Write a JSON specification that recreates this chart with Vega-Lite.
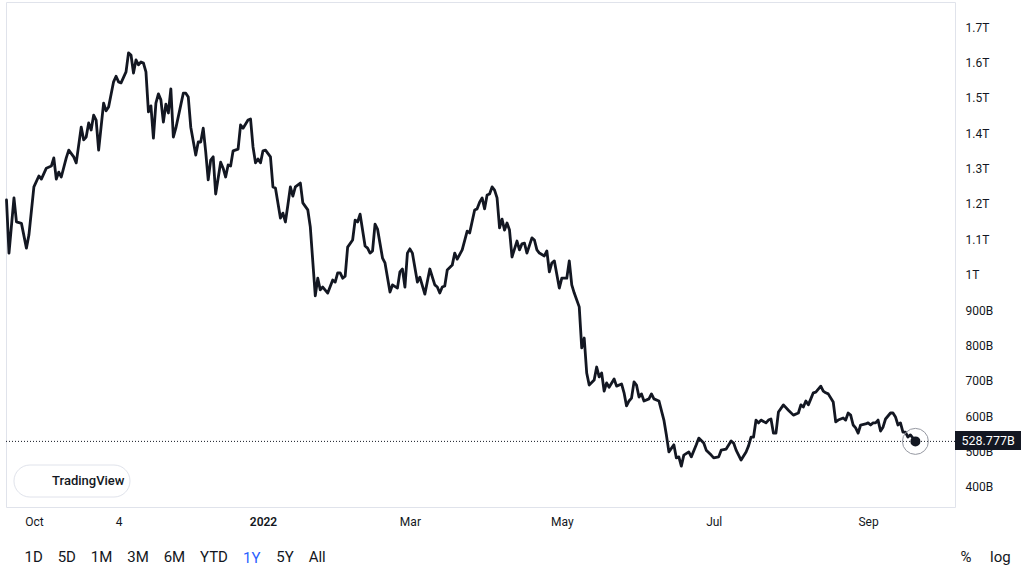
{
  "$schema": "https://vega.github.io/schema/vega-lite/v6.json",
  "autosize": "none",
  "width": 949,
  "height": 505,
  "padding": {"left": 6, "top": 2, "right": 69, "bottom": 70},
  "background": "white",
  "title": {"text": "1Y", "orient": "bottom", "anchor": "start", "frame": "group", "dx": 237, "dy": -6, "color": "#2962ff", "fontSize": 15, "fontWeight": "normal", "font": "Roboto", "baseline": "middle", "offset": 0},
  "config": {
    "font": "Roboto",
    "view": {"stroke": "#e0e3eb", "strokeWidth": 1},
    "axis": {"labelOverlap": false, "labelSeparation": 0},
    "axisY": {"labelOverlap": false, "values": [400, 500, 600, 700, 800, 900, 1000, 1100, 1200, 1300, 1400, 1500, 1600, 1700]}
  },
  "layer": [
    {
      "data": {"values": [
        {"date": "2021-09-20", "value": 1211}, {"date": "2021-09-21", "value": 1061}, {"date": "2021-09-23", "value": 1217}, {"date": "2021-09-24", "value": 1149}, {"date": "2021-09-26", "value": 1145}, {"date": "2021-09-28", "value": 1075}, {"date": "2021-09-29", "value": 1112},
        {"date": "2021-10-01", "value": 1248}, {"date": "2021-10-03", "value": 1279}, {"date": "2021-10-04", "value": 1270}, {"date": "2021-10-06", "value": 1301}, {"date": "2021-10-08", "value": 1307}, {"date": "2021-10-09", "value": 1330}, {"date": "2021-10-10", "value": 1270}, {"date": "2021-10-11", "value": 1290}, {"date": "2021-10-12", "value": 1276}, {"date": "2021-10-14", "value": 1330}, {"date": "2021-10-15", "value": 1352}, {"date": "2021-10-17", "value": 1333}, {"date": "2021-10-18", "value": 1316}, {"date": "2021-10-20", "value": 1417}, {"date": "2021-10-21", "value": 1381}, {"date": "2021-10-22", "value": 1389}, {"date": "2021-10-23", "value": 1429}, {"date": "2021-10-24", "value": 1409}, {"date": "2021-10-25", "value": 1451}, {"date": "2021-10-26", "value": 1437}, {"date": "2021-10-27", "value": 1352}, {"date": "2021-10-29", "value": 1485}, {"date": "2021-10-30", "value": 1463}, {"date": "2021-10-31", "value": 1474},
        {"date": "2021-11-02", "value": 1545}, {"date": "2021-11-03", "value": 1561}, {"date": "2021-11-04", "value": 1545}, {"date": "2021-11-05", "value": 1542}, {"date": "2021-11-07", "value": 1573}, {"date": "2021-11-08", "value": 1627}, {"date": "2021-11-09", "value": 1621}, {"date": "2021-11-10", "value": 1570}, {"date": "2021-11-11", "value": 1607}, {"date": "2021-11-12", "value": 1593}, {"date": "2021-11-13", "value": 1601}, {"date": "2021-11-14", "value": 1598}, {"date": "2021-11-15", "value": 1573}, {"date": "2021-11-16", "value": 1460}, {"date": "2021-11-17", "value": 1477}, {"date": "2021-11-18", "value": 1386}, {"date": "2021-11-19", "value": 1485}, {"date": "2021-11-20", "value": 1511}, {"date": "2021-11-21", "value": 1494}, {"date": "2021-11-22", "value": 1431}, {"date": "2021-11-23", "value": 1482}, {"date": "2021-11-24", "value": 1457}, {"date": "2021-11-25", "value": 1525}, {"date": "2021-11-26", "value": 1389}, {"date": "2021-11-27", "value": 1414}, {"date": "2021-11-29", "value": 1480}, {"date": "2021-11-30", "value": 1513},
        {"date": "2021-12-01", "value": 1513}, {"date": "2021-12-02", "value": 1502}, {"date": "2021-12-03", "value": 1417}, {"date": "2021-12-05", "value": 1338}, {"date": "2021-12-06", "value": 1375}, {"date": "2021-12-07", "value": 1375}, {"date": "2021-12-08", "value": 1414}, {"date": "2021-12-09", "value": 1347}, {"date": "2021-12-10", "value": 1268}, {"date": "2021-12-11", "value": 1324}, {"date": "2021-12-12", "value": 1333}, {"date": "2021-12-13", "value": 1228}, {"date": "2021-12-15", "value": 1318}, {"date": "2021-12-16", "value": 1301}, {"date": "2021-12-17", "value": 1276}, {"date": "2021-12-18", "value": 1310}, {"date": "2021-12-19", "value": 1307}, {"date": "2021-12-20", "value": 1350}, {"date": "2021-12-22", "value": 1355}, {"date": "2021-12-23", "value": 1423}, {"date": "2021-12-24", "value": 1414}, {"date": "2021-12-26", "value": 1437}, {"date": "2021-12-27", "value": 1440}, {"date": "2021-12-28", "value": 1361}, {"date": "2021-12-29", "value": 1316}, {"date": "2021-12-30", "value": 1327}, {"date": "2021-12-31", "value": 1316},
        {"date": "2022-01-01", "value": 1350}, {"date": "2022-01-02", "value": 1352}, {"date": "2022-01-04", "value": 1333}, {"date": "2022-01-05", "value": 1248}, {"date": "2022-01-06", "value": 1245}, {"date": "2022-01-08", "value": 1160}, {"date": "2022-01-09", "value": 1174}, {"date": "2022-01-10", "value": 1149}, {"date": "2022-01-11", "value": 1197}, {"date": "2022-01-12", "value": 1248}, {"date": "2022-01-13", "value": 1222}, {"date": "2022-01-14", "value": 1248}, {"date": "2022-01-16", "value": 1259}, {"date": "2022-01-17", "value": 1203}, {"date": "2022-01-19", "value": 1183}, {"date": "2022-01-20", "value": 1135}, {"date": "2022-01-22", "value": 940}, {"date": "2022-01-23", "value": 990}, {"date": "2022-01-24", "value": 957}, {"date": "2022-01-25", "value": 965}, {"date": "2022-01-27", "value": 948}, {"date": "2022-01-29", "value": 985}, {"date": "2022-01-30", "value": 979}, {"date": "2022-01-31", "value": 1005},
        {"date": "2022-02-01", "value": 1005}, {"date": "2022-02-02", "value": 990}, {"date": "2022-02-03", "value": 996}, {"date": "2022-02-04", "value": 1078}, {"date": "2022-02-06", "value": 1098}, {"date": "2022-02-07", "value": 1154}, {"date": "2022-02-08", "value": 1149}, {"date": "2022-02-09", "value": 1171}, {"date": "2022-02-11", "value": 1081}, {"date": "2022-02-12", "value": 1075}, {"date": "2022-02-13", "value": 1061}, {"date": "2022-02-14", "value": 1067}, {"date": "2022-02-15", "value": 1143}, {"date": "2022-02-16", "value": 1129}, {"date": "2022-02-18", "value": 1047}, {"date": "2022-02-19", "value": 1033}, {"date": "2022-02-21", "value": 951}, {"date": "2022-02-22", "value": 971}, {"date": "2022-02-24", "value": 962}, {"date": "2022-02-25", "value": 1008}, {"date": "2022-02-26", "value": 1016}, {"date": "2022-02-27", "value": 965}, {"date": "2022-02-28", "value": 1061},
        {"date": "2022-03-01", "value": 1073}, {"date": "2022-03-02", "value": 1061}, {"date": "2022-03-04", "value": 979}, {"date": "2022-03-05", "value": 993}, {"date": "2022-03-07", "value": 945}, {"date": "2022-03-09", "value": 1016}, {"date": "2022-03-11", "value": 971}, {"date": "2022-03-12", "value": 965}, {"date": "2022-03-13", "value": 948}, {"date": "2022-03-14", "value": 965}, {"date": "2022-03-15", "value": 968}, {"date": "2022-03-16", "value": 1013}, {"date": "2022-03-18", "value": 1027}, {"date": "2022-03-19", "value": 1061}, {"date": "2022-03-20", "value": 1044}, {"date": "2022-03-22", "value": 1070}, {"date": "2022-03-24", "value": 1123}, {"date": "2022-03-25", "value": 1118}, {"date": "2022-03-27", "value": 1183}, {"date": "2022-03-28", "value": 1186}, {"date": "2022-03-29", "value": 1205}, {"date": "2022-03-30", "value": 1217}, {"date": "2022-03-31", "value": 1186},
        {"date": "2022-04-01", "value": 1225}, {"date": "2022-04-02", "value": 1228}, {"date": "2022-04-03", "value": 1248}, {"date": "2022-04-04", "value": 1239}, {"date": "2022-04-05", "value": 1217}, {"date": "2022-04-06", "value": 1132}, {"date": "2022-04-07", "value": 1157}, {"date": "2022-04-08", "value": 1126}, {"date": "2022-04-09", "value": 1146}, {"date": "2022-04-10", "value": 1126}, {"date": "2022-04-11", "value": 1050}, {"date": "2022-04-13", "value": 1095}, {"date": "2022-04-14", "value": 1070}, {"date": "2022-04-15", "value": 1087}, {"date": "2022-04-16", "value": 1089}, {"date": "2022-04-17", "value": 1061}, {"date": "2022-04-19", "value": 1104}, {"date": "2022-04-20", "value": 1098}, {"date": "2022-04-21", "value": 1070}, {"date": "2022-04-22", "value": 1061}, {"date": "2022-04-24", "value": 1053}, {"date": "2022-04-25", "value": 1067}, {"date": "2022-04-26", "value": 1008}, {"date": "2022-04-27", "value": 1033}, {"date": "2022-04-28", "value": 1039}, {"date": "2022-04-30", "value": 962},
        {"date": "2022-05-01", "value": 990}, {"date": "2022-05-03", "value": 990}, {"date": "2022-05-04", "value": 1039}, {"date": "2022-05-05", "value": 971}, {"date": "2022-05-06", "value": 948}, {"date": "2022-05-08", "value": 909}, {"date": "2022-05-09", "value": 793}, {"date": "2022-05-10", "value": 821}, {"date": "2022-05-11", "value": 722}, {"date": "2022-05-12", "value": 688}, {"date": "2022-05-14", "value": 702}, {"date": "2022-05-15", "value": 739}, {"date": "2022-05-16", "value": 711}, {"date": "2022-05-17", "value": 722}, {"date": "2022-05-18", "value": 671}, {"date": "2022-05-19", "value": 694}, {"date": "2022-05-20", "value": 682}, {"date": "2022-05-22", "value": 705}, {"date": "2022-05-23", "value": 685}, {"date": "2022-05-25", "value": 691}, {"date": "2022-05-26", "value": 666}, {"date": "2022-05-27", "value": 629}, {"date": "2022-05-28", "value": 643}, {"date": "2022-05-29", "value": 651}, {"date": "2022-05-30", "value": 697}, {"date": "2022-05-31", "value": 688},
        {"date": "2022-06-01", "value": 654}, {"date": "2022-06-02", "value": 663}, {"date": "2022-06-03", "value": 643}, {"date": "2022-06-05", "value": 649}, {"date": "2022-06-06", "value": 663}, {"date": "2022-06-07", "value": 649}, {"date": "2022-06-09", "value": 643}, {"date": "2022-06-11", "value": 589}, {"date": "2022-06-12", "value": 547}, {"date": "2022-06-13", "value": 499}, {"date": "2022-06-15", "value": 519}, {"date": "2022-06-16", "value": 482}, {"date": "2022-06-17", "value": 485}, {"date": "2022-06-18", "value": 459}, {"date": "2022-06-19", "value": 490}, {"date": "2022-06-21", "value": 499}, {"date": "2022-06-22", "value": 485}, {"date": "2022-06-24", "value": 519}, {"date": "2022-06-25", "value": 538}, {"date": "2022-06-27", "value": 524}, {"date": "2022-06-28", "value": 504}, {"date": "2022-06-30", "value": 490},
        {"date": "2022-07-01", "value": 482}, {"date": "2022-07-03", "value": 485}, {"date": "2022-07-04", "value": 504}, {"date": "2022-07-06", "value": 507}, {"date": "2022-07-08", "value": 530}, {"date": "2022-07-09", "value": 524}, {"date": "2022-07-10", "value": 504}, {"date": "2022-07-12", "value": 476}, {"date": "2022-07-14", "value": 499}, {"date": "2022-07-15", "value": 516}, {"date": "2022-07-16", "value": 541}, {"date": "2022-07-17", "value": 541}, {"date": "2022-07-18", "value": 589}, {"date": "2022-07-19", "value": 581}, {"date": "2022-07-20", "value": 589}, {"date": "2022-07-22", "value": 581}, {"date": "2022-07-23", "value": 589}, {"date": "2022-07-24", "value": 592}, {"date": "2022-07-25", "value": 552}, {"date": "2022-07-26", "value": 552}, {"date": "2022-07-27", "value": 612}, {"date": "2022-07-29", "value": 632}, {"date": "2022-07-31", "value": 617},
        {"date": "2022-08-02", "value": 603}, {"date": "2022-08-04", "value": 609}, {"date": "2022-08-05", "value": 632}, {"date": "2022-08-06", "value": 626}, {"date": "2022-08-07", "value": 643}, {"date": "2022-08-08", "value": 632}, {"date": "2022-08-09", "value": 649}, {"date": "2022-08-10", "value": 666}, {"date": "2022-08-11", "value": 668}, {"date": "2022-08-13", "value": 685}, {"date": "2022-08-14", "value": 671}, {"date": "2022-08-15", "value": 666}, {"date": "2022-08-16", "value": 663}, {"date": "2022-08-18", "value": 640}, {"date": "2022-08-19", "value": 584}, {"date": "2022-08-20", "value": 589}, {"date": "2022-08-22", "value": 595}, {"date": "2022-08-23", "value": 589}, {"date": "2022-08-24", "value": 609}, {"date": "2022-08-25", "value": 603}, {"date": "2022-08-26", "value": 575}, {"date": "2022-08-27", "value": 567}, {"date": "2022-08-28", "value": 552}, {"date": "2022-08-29", "value": 575}, {"date": "2022-08-31", "value": 578},
        {"date": "2022-09-01", "value": 581}, {"date": "2022-09-02", "value": 575}, {"date": "2022-09-03", "value": 581}, {"date": "2022-09-04", "value": 581}, {"date": "2022-09-05", "value": 589}, {"date": "2022-09-06", "value": 558}, {"date": "2022-09-07", "value": 569}, {"date": "2022-09-08", "value": 592}, {"date": "2022-09-10", "value": 609}, {"date": "2022-09-11", "value": 609}, {"date": "2022-09-12", "value": 598}, {"date": "2022-09-13", "value": 575}, {"date": "2022-09-14", "value": 581}, {"date": "2022-09-15", "value": 555}, {"date": "2022-09-16", "value": 555}, {"date": "2022-09-17", "value": 541}, {"date": "2022-09-18", "value": 547}, {"date": "2022-09-20", "value": 528.777}
      ]},
      "mark": {"type": "line", "color": "#131722", "strokeWidth": 2.8, "strokeJoin": "round", "strokeCap": "round"},
      "encoding": {
        "x": {
          "field": "date", "type": "temporal",
          "scale": {"type": "utc", "domain": [1632078720000, 1665005760000], "nice": false},
          "axis": {
            "values": [1633046400000, 1635984000000, 1640995200000, 1646092800000, 1651363200000, 1656633600000, 1661990400000],
            "labelExpr": "utcFormat(datum.value, '%m-%d') === '01-01' ? '2022' : (utcFormat(datum.value, '%m-%d') === '11-04' ? '4' : utcFormat(datum.value, '%b'))",
            "labelFontWeight": {"condition": {"test": "utcFormat(datum.value, '%m-%d') === '01-01'", "value": 600}, "value": "normal"},
            "ticks": false, "domain": false, "grid": false,
            "labelPadding": 9, "labelFontSize": 12, "labelColor": "#131722", "labelFlush": false, "labelOverlap": false,
            "title": "1D\u00a0\u00a0\u00a0\u00a05D\u00a0\u00a0\u00a0\u00a01M\u00a0\u00a0\u00a0\u00a03M\u00a0\u00a0\u00a0\u00a06M\u00a0\u00a0\u00a0\u00a0YTD\u00a0\u00a0\u00a0\u00a0\u00a0\u00a0\u00a0\u00a0\u00a0\u00a0\u00a0\u00a0\u00a05Y\u00a0\u00a0\u00a0\u00a0All",
            "titleX": 18, "titleY": 49, "titleAlign": "left", "titleAnchor": "start", "titleBaseline": "middle",
            "titleFontSize": 15, "titleFontWeight": "normal", "titleColor": "#131722"
          }
        },
        "y": {
          "field": "value", "type": "quantitative",
          "scale": {"domain": [343.3, 1770.7], "nice": false, "zero": false},
          "axis": {
            "orient": "right",
            "values": [400, 500, 600, 700, 800, 900, 1000, 1100, 1200, 1300, 1400, 1500, 1600, 1700],
            "tickCount": 14,
            "labelExpr": "datum.value >= 1000 ? format(datum.value / 1000, '.1~f') + 'T' : datum.value + 'B'",
            "ticks": false, "domain": false, "grid": false, "labelOverlap": false,
            "labelPadding": 10, "labelFontSize": 12, "labelColor": "#131722",
            "title": "%\u00a0\u00a0\u00a0\u00a0\u00a0log", "titleAngle": 0, "titleX": 5, "titleY": 554, "titleAlign": "left", "titleBaseline": "middle",
            "titleFontSize": 15, "titleFontWeight": "normal", "titleColor": "#131722"
          }
        }
      }
    },
    {
      "data": {"values": [{}]},
      "mark": {"type": "rect", "cornerRadius": 16, "fill": "white", "stroke": "#e0e3eb", "strokeWidth": 1},
      "encoding": {
        "x": {"datum": 1632355200000, "type": "temporal"},
        "x2": {"datum": 1636381440000},
        "y": {"datum": 462, "type": "quantitative"},
        "y2": {"datum": 371.5}
      }
    },
    {
      "data": {"values": [{}]},
      "mark": {"type": "text", "text": "TradingView", "align": "left", "baseline": "middle", "fontSize": 13, "fontWeight": 500, "color": "#131722"},
      "encoding": {
        "x": {"datum": 1633677120000, "type": "temporal"},
        "y": {"datum": 417, "type": "quantitative"}
      }
    },
    {
      "data": {"values": [{}]},
      "mark": {"type": "rule", "color": "#131722", "strokeWidth": 1, "strokeDash": [1, 2]},
      "encoding": {
        "y": {"datum": 528.777, "type": "quantitative"}
      }
    },
    {
      "data": {"values": [{}]},
      "mark": {"type": "point", "shape": "circle", "size": 676, "filled": false, "stroke": "#9598a1", "strokeWidth": 1, "opacity": 1},
      "encoding": {
        "x": {"datum": 1663632000000, "type": "temporal"},
        "y": {"datum": 528.777, "type": "quantitative"}
      }
    },
    {
      "data": {"values": [{}]},
      "mark": {"type": "point", "shape": "circle", "size": 100, "filled": true, "color": "#131722", "opacity": 1},
      "encoding": {
        "x": {"datum": 1663632000000, "type": "temporal"},
        "y": {"datum": 528.777, "type": "quantitative"}
      }
    },
    {
      "data": {"values": [{}]},
      "mark": {"type": "rect", "fill": "#131722"},
      "encoding": {
        "x": {"datum": 1665005760000, "type": "temporal"},
        "x2": {"datum": 1667295360000},
        "y": {"datum": 558.1, "type": "quantitative"},
        "y2": {"datum": 504.7}
      }
    },
    {
      "data": {"values": [{}]},
      "mark": {"type": "text", "text": "528.777B", "align": "center", "baseline": "middle", "fontSize": 12.5, "color": "white"},
      "encoding": {
        "x": {"datum": 1666154880000, "type": "temporal"},
        "y": {"datum": 528.777, "type": "quantitative"}
      }
    }
  ]
}
